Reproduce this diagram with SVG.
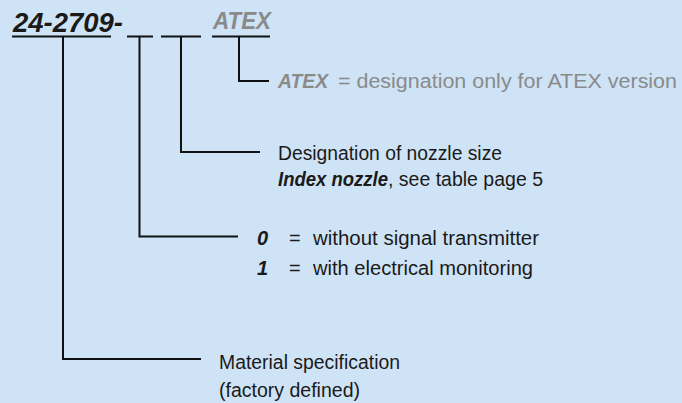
<svg xmlns="http://www.w3.org/2000/svg" width="682" height="403" viewBox="0 0 682 403">
<style>
.ln{fill:none;stroke:#111;stroke-width:2;stroke-linecap:butt;stroke-linejoin:miter}
.t{font-family:"Liberation Sans",Arial,sans-serif;font-size:20px;fill:#1a1a1a}
.g{fill:#8a8a8a}
.bi{font-weight:bold;font-style:italic}
</style>
<rect width="682" height="403" fill="#cfe3f6"/>
<g id="code">
<text x="13" y="31.5" class="t bi" style="font-size:27px" textLength="110" lengthAdjust="spacingAndGlyphs">24-2709-</text>
<text x="213" y="28.5" class="t g bi" style="font-size:23px" textLength="58" lengthAdjust="spacingAndGlyphs">ATEX</text>
<path class="ln" d="M12 36.5H111M127 36.5H153M161 36.5H201M212 36.5H270"/>
</g>
<g id="connectors">
<path class="ln" d="M239 36.5V81H269"/>
<path class="ln" d="M181 36.5V152H260"/>
<path class="ln" d="M139.5 36.5V236.5H238"/>
<path class="ln" d="M63 36.5V359H201"/>
</g>
<g id="atex">
<text class="t g" y="88"><tspan x="278" class="bi" textLength="50" lengthAdjust="spacingAndGlyphs">ATEX</tspan><tspan x="338" textLength="339" lengthAdjust="spacingAndGlyphs">= designation only for ATEX version</tspan></text>
</g>
<g id="nozzle">
<text x="278" y="160" class="t" textLength="224" lengthAdjust="spacingAndGlyphs">Designation of nozzle size</text>
<text class="t" y="186"><tspan x="278" class="bi" textLength="110" lengthAdjust="spacingAndGlyphs">Index nozzle</tspan><tspan x="388" textLength="155" lengthAdjust="spacingAndGlyphs">, see table page 5</tspan></text>
</g>
<g id="signal">
<text x="257" y="245" class="t bi">0</text>
<text x="289" y="245" class="t">=</text>
<text x="313" y="245" class="t" textLength="226" lengthAdjust="spacingAndGlyphs">without signal transmitter</text>
<text x="257" y="275" class="t bi">1</text>
<text x="289" y="275" class="t">=</text>
<text x="313" y="275" class="t" textLength="220" lengthAdjust="spacingAndGlyphs">with electrical monitoring</text>
</g>
<g id="material">
<text x="219" y="369" class="t" textLength="181" lengthAdjust="spacingAndGlyphs">Material specification</text>
<text x="219" y="397" class="t" textLength="141" lengthAdjust="spacingAndGlyphs">(factory defined)</text>
</g>
</svg>
